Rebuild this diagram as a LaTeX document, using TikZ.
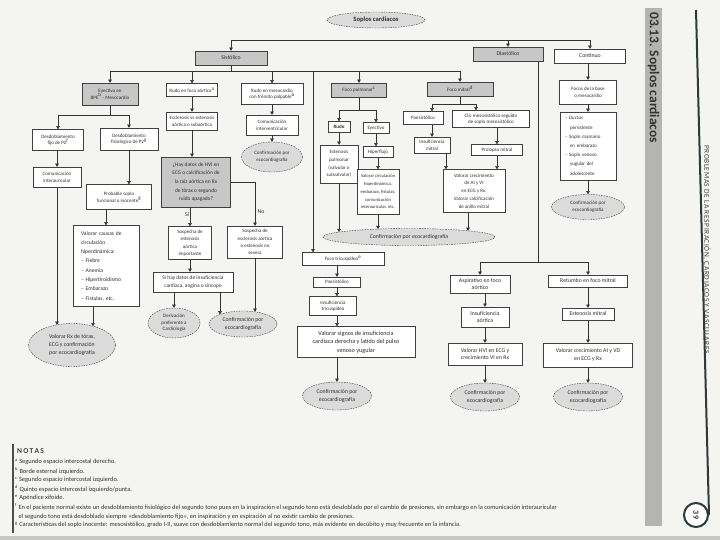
\documentclass[tikz,border=0pt]{standalone}
\usepackage{fontspec}
\setmainfont{Carlito}
\newfontfamily\spacedfont[LetterSpace=8]{Carlito}
\usetikzlibrary{arrows.meta,shapes.geometric,calc,shadows}
\definecolor{pagebg}{HTML}{F4F4F2}
\definecolor{band}{HTML}{B4B4B2}
\definecolor{ink}{HTML}{2E2E2E}
\definecolor{slate}{HTML}{2C3A3A}
\newcommand\fsA{\fontsize{5}{6.6}\selectfont}
\newcommand\fsB{\fontsize{5.8}{7.6}\selectfont}
\begin{document}
\begin{tikzpicture}[x=1pt,y=-1pt,
  ln/.style={black!80,line width=0.5pt},
  arr/.style={ln,-{Triangle[length=3.2pt,width=3.6pt]}},
  sz/.style 2 args={minimum width=#1pt,minimum height=#2pt},
  box/.style={draw=black!75,line width=0.4pt,fill=white,inner sep=1pt,align=center,font=\fsA,text=ink,
    drop shadow={shadow xshift=0.6pt,shadow yshift=-0.6pt,fill=black!35}},
  gbox/.style={box,fill=black!22},
  ell/.style={ellipse,draw=black!75,line width=0.4pt,dash pattern=on 1.6pt off 1pt,fill=black!14,inner sep=0pt,align=center,font=\fsA,text=ink},
  note/.style={anchor=west,inner sep=0pt,font=\fontsize{6.4}{6.4}\selectfont,text=black!80},
]
\useasboundingbox (0,0) rectangle (720,540);
\fill[pagebg] (0,0) rectangle (720,540);
\fill[black!22] (0,536) rectangle (720,540);

% right margin
\fill[band] (645,8) rectangle (662,526);
\node[rotate=-90,anchor=west,inner sep=0pt,font=\fontsize{13.5}{13.5}\selectfont\bfseries,text=black!80] (hdr) at (653.5,12) {03.13. Soplos cardiacos};
\node[circle,draw=slate,line width=2pt,fill=white,minimum size=24pt,inner sep=0pt,rotate=-90,font=\fontsize{8}{8}\selectfont\bfseries,text=slate] (pg) at (696,515) {39};
\coordinate (lt) at (696,10);
\draw[slate,line width=2pt] (lt) -- (pg.north);
\node[rotate=-90,anchor=west,inner sep=0pt,font=\spacedfont\fontsize{7.4}{7.4}\selectfont,text=black!75] (sect) at (707,145) {PROBLEMAS DE LA RESPIRACIÓN, CARDIACOS Y VASCULARES};

% title and top level
\node[ell,sz={98}{16},font=\fontsize{6.6}{8}\selectfont\bfseries] (title) at (376,20) {Soplos cardiacos};
\node[gbox,sz={72}{14},font=\fsB] (sis) at (231,58) {Sistólico};
\node[gbox,sz={70}{14},font=\fsB] (dia) at (508,54) {Diastólico};
\node[box,sz={71}{14},font=\fsB] (con) at (590,56) {Continuo};

% systolic level 2
\node[gbox,sz={56}{22}] (eyec) at (110,94) {Eyectivo en\\BPE\textsuperscript{b} - Mesocardio};
\node[box,sz={51}{13}] (rfa) at (192,90) {Rudo en foco aórtico\textsuperscript{a}};
\node[box,sz={62}{21}] (rmes) at (272,94) {Rudo en mesocardio\\con frémito palpable\textsuperscript{b}};
\node[gbox,sz={55}{14}] (fpul) at (359,90) {Foco pulmonar\textsuperscript{c}};
\node[gbox,sz={66}{14}] (fmit) at (460,89) {Foco mitral\textsuperscript{d}};

% left column
\node[box,sz={51}{21}] (dfijo) at (58,140) {Desdoblamiento\\fijo de P2\textsuperscript{f}};
\node[box,sz={58}{22}] (dfis) at (129,139) {Desdoblamiento\\fisiológico de P2\textsuperscript{g}};
\node[box,sz={48}{20}] (cia) at (57,177) {Comunicación\\interauricular};
\node[box,sz={65}{25}] (prob) at (119,197) {Probable soplo\\funcional o inocente\textsuperscript{g}};
\node[box,sz={66}{81},align=left,text width=50pt,font=\fontsize{5.6}{9.3}\selectfont] (vcaus) at (106,266) {Valorar causas de\\circulación\\hiperdinámica:\\– Fiebre\\– Anemia\\– Hipertiroidismo\\– Embarazo\\– Fístulas, etc.};
\node[ell,sz={87}{43},font=\fsB] (vrx) at (72,345) {Valorar Rx de tórax,\\ECG y confirmación\\por ecocardiografía};

% aortic
\node[box,sz={51}{18}] (esc) at (192,121) {Esclerosis vs estenosis\\aórtica o subaórtica};
\node[gbox,sz={69}{50},font=\fontsize{5.4}{8.6}\selectfont] (hay) at (196,182) {¿Hay datos de HVI en\\ECG o calcificación de\\la raíz aórtica en Rx\\de tórax o segundo\\ruido apagado?};
\node[box,sz={43}{33},font=\fontsize{5}{7.4}\selectfont] (sest) at (190,243) {Sospecha de\\estenosis\\aórtica\\importante};
\node[box,sz={55}{32},font=\fontsize{5}{7.2}\selectfont] (sescl) at (255,242) {Sospecha de\\esclerosis aórtica\\o estenosis no\\severa};
\node[box,sz={80}{20},font=\fontsize{5.4}{7.4}\selectfont] (sihay) at (193,282) {Si hay datos de insuficiencia\\cardiaca, angina o síncope};
\node[ell,sz={52}{30}] (deriv) at (174,323) {Derivación\\preferente a\\Cardiología};
\node[ell,sz={68}{26},font=\fsB] (conf2) at (243,324) {Confirmación por\\ecocardiografía};
\node[font=\fsB,text=ink,inner sep=0pt] (si) at (187,215) {Sí};
\node[font=\fsB,text=ink,inner sep=0pt] (no) at (261,212) {No};

% mesocardio
\node[box,sz={52}{20}] (civ) at (272,125) {Comunicación\\interventricular};
\node[ell,sz={61}{30}] (conf1) at (272,157) {Confirmación por\\ecocardiografía};

% pulmonary
\node[box,sz={22}{11},font=\fsA\bfseries] (rudo) at (339,127) {Rudo};
\node[box,sz={26}{11}] (eyec2) at (376,128) {Eyectivo};
\node[box,sz={38}{38},font=\fontsize{5}{7.6}\selectfont] (estp) at (339,164) {Estenosis\\pulmonar\\(valvular o\\subvalvular)};
\node[box,sz={30}{11}] (hiper) at (378,152) {Hiperflujo};
\node[box,sz={42}{45},font=\fontsize{4.6}{7.8}\selectfont] (vcirc) at (378,192) {Valorar circulación\\hiperdinámica,\\embarazo, fístulas,\\comunicación\\interauricular, etc.};

% mitral
\node[box,sz={40}{13}] (pans) at (423,118) {Pansistólico};
\node[box,sz={77}{17}] (clic) at (491,119) {Clic mesosistólico seguido\\de soplo mesosistólico};
\node[box,sz={36}{16}] (imit) at (432,145) {Insuficiencia\\mitral};
\node[box,sz={51}{11}] (prol) at (497,150) {Prolapso mitral};
\node[box,sz={62}{43},font=\fontsize{5}{7.8}\selectfont] (vcrec) at (474,191) {Valorar crecimiento\\de AI y VI\\en ECG y Rx.\\Valorar calcificación\\de anillo mitral};
\node[ell,sz={172}{17},font=\fsB] (confbig) at (409,237) {Confirmación por ecocardiografía};

% continuous
\node[box,sz={57}{24}] (foco) at (588,92) {Focos de la base\\o mesocardio};
\node[box,sz={56}{68},align=left,text width=46pt,font=\fontsize{5}{9.2}\selectfont] (clist) at (588,146) {– \textit{Ductus}\\\hspace*{5pt}persistente\\– Soplo mamario\\\hspace*{5pt}en embarazo\\– Soplo venoso\\\hspace*{5pt}yugular del\\\hspace*{5pt}adolescente};
\node[ell,sz={73}{25}] (conf3) at (588,207) {Confirmación por\\ecocardiografía};

% tricuspid
\node[box,sz={82}{13}] (ftri) at (343,259) {Foco tricuspídeo\textsuperscript{e}};
\node[box,sz={47}{10}] (pans2) at (337,282) {Pansistólico};
\node[box,sz={47}{19}] (itri) at (333,306) {Insuficiencia\\tricuspídea};
\node[box,sz={118}{31},font=\fontsize{6.2}{8.4}\selectfont] (vsig) at (356,342) {Valorar signos de insuficiencia\\cardiaca derecha y latido del pulso\\venoso yugular};
\node[ell,sz={69}{28},font=\fsB] (conf4) at (337,396) {Confirmación por\\ecocardiografía};

% diastolic
\node[box,sz={60}{18},font=\fsB] (asp) at (480,284) {Aspirativo en foco\\aórtico};
\node[box,sz={79}{12},font=\fsB] (ret) at (588,281) {Retumbo en foco mitral};
\node[box,sz={48}{20},font=\fsB] (iao) at (485,317) {Insuficiencia\\aórtica};
\node[box,sz={52}{12},font=\fsB] (est) at (588,314) {Estenosis mitral};
\node[box,sz={74}{22},font=\fsB] (vhvi) at (485,354) {Valorar HVI en ECG y\\crecimiento VI en Rx};
\node[box,sz={89}{24},font=\fsB] (vcad) at (588,355) {Valorar crecimiento AI y VD\\en ECG y Rx};
\node[ell,sz={69}{28},font=\fsB] (conf5) at (485,397) {Confirmación por\\ecocardiografía};
\node[ell,sz={69}{28},font=\fsB] (conf6) at (588,397) {Confirmación por\\ecocardiografía};

% ---------- connectors ----------
\coordinate (tl) at (231,40); \coordinate (tr) at (590,40);
\draw[ln] (tl) -- (tr);
\draw[arr] (tl) -- (sis.north);
\draw[arr] (dia.north |- tl) -- (dia.north);
\draw[arr] (tr) -- (con.north);

\coordinate (s1) at (110,71); \coordinate (s2) at (460,71); \coordinate (s3) at (313,71);
\draw[ln] (sis.south) -- (sis.south |- s1);
\draw[ln] (s1) -- (s2);
\draw[arr] (s1) -- (eyec.north);
\draw[arr] (rfa.north |- s1) -- (rfa.north);
\draw[arr] (rmes.north |- s1) -- (rmes.north);
\draw[arr] (fpul.north |- s1) -- (fpul.north);
\draw[arr] (s2) -- (fmit.north);
\draw[arr] (s3) -- (s3 |- ftri.north);

\coordinate (e1) at (58,115); \coordinate (e2) at (129,115);
\draw[ln] (eyec.south) -- (eyec.south |- e1);
\draw[ln] (e1) -- (e2);
\draw[arr] (e1) -- (dfijo.north);
\draw[arr] (e2) -- (dfis.north);
\draw[arr] (cia.north |- dfijo.south) -- (cia.north);
\draw[arr] (cia.south) -- ($(vrx.center)+(-15,-20.2)$);
\draw[arr] (dfis.south) -- (dfis.south |- prob.north);
\draw[arr] (prob.south -| vcaus.north) -- (vcaus.north);
\draw[arr] ([xshift=-13pt]vcaus.south) -- ($(vrx.center)+(21,-18.8)$);

\draw[arr] (rfa.south) -- (esc.north);
\draw[arr] (esc.south) -- (esc.south |- hay.north);
\draw[arr] (sest.north |- hay.south) -- (sest.north);
\draw[ln] (hay.east) -- (sescl.north |- hay.east);
\draw[arr] (sescl.north |- hay.east) -- (sescl.north);
\draw[arr] (sest.south) -- (sest.south |- sihay.north);
\draw[arr] (deriv.north |- sihay.south) -- (deriv.north);
\draw[arr] ([xshift=27pt]sihay.south) -- ($(conf2.center)+(-23,-9.6)$);
\draw[arr] (sescl.south) -- ($(conf2.center)+(12,-12.2)$);

\draw[arr] (rmes.south) -- (civ.north);
\draw[arr] (civ.south) -- (conf1.north);

\coordinate (p1) at (339,110); \coordinate (p2) at (376,110);
\draw[ln] (fpul.south) -- (fpul.south |- p1);
\draw[ln] (p1) -- (p2);
\draw[arr] (p1) -- (rudo.north);
\draw[arr] (p2) -- (eyec2.north);
\draw[arr] (eyec2.south) -- (eyec2.south |- hiper.north);
\draw[arr] (hiper.south) -- (vcirc.north);
\draw[arr] (rudo.south) -- (estp.north);
\draw[arr] (estp.south) -- ($(confbig.center)+(-70,-4.9)$);
\draw[arr] (vcirc.south) -- ($(confbig.center)+(-31,-7.9)$);

\coordinate (m1) at (432,104); \coordinate (m2) at (476,104);
\draw[ln] (fmit.south) -- (fmit.south |- m1);
\draw[ln] (m1) -- (m2);
\draw[arr] (m1) -- (m1 |- pans.north);
\draw[arr] (m2) -- (m2 |- clic.north);
\draw[arr] (imit.north |- pans.south) -- (imit.north);
\draw[arr] (prol.north |- clic.south) -- (prol.north);
\draw[arr] ([xshift=14pt]imit.south) -- ([xshift=14pt]imit.south |- vcrec.north);
\draw[arr] (prol.south) -- (prol.south |- vcrec.north);
\draw[arr] ([xshift=-6pt]vcrec.south) -- ($(confbig.center)+(59,-6.2)$);

\draw[arr] (foco.north |- con.south) -- (foco.north);
\draw[arr] (foco.south) -- (clist.north);
\draw[arr] (clist.south) -- (conf3.north);

\coordinate (d1) at (538,262); \coordinate (d2) at (480,262); \coordinate (d3) at (588,262);
\draw[ln] ([xshift=30pt]dia.south) -- (d1);
\draw[ln] (d2) -- (d3);
\draw[arr] (d2) -- (asp.north);
\draw[arr] (d3) -- (ret.north);
\draw[arr] (iao.north |- asp.south) -- (iao.north);
\draw[arr] (iao.south) -- (vhvi.north);
\draw[arr] (vhvi.south) -- (conf5.north);
\draw[arr] (ret.south) -- (est.north);
\draw[arr] (est.south) -- (vcad.north);
\draw[arr] (vcad.south) -- (conf6.north);

\draw[arr] (pans2.north |- ftri.south) -- (pans2.north);
\draw[arr] (pans2.south) -- (pans2.south |- itri.north);
\draw[arr] (pans2.south |- itri.south) -- (pans2.south |- vsig.north);
\draw[arr] (pans2.south |- vsig.south) -- (conf4.north);

% ---------- notes ----------
\draw[black!70,line width=1.2pt] (13,444) -- (13,533);
\node[anchor=west,inner sep=0pt,font=\fontsize{7.5}{7.5}\selectfont\bfseries,text=black!75] (notas) at (17,451) {N\,O\,T\,A\,S};
\node[note] (n1) at (15,462) {\textsuperscript{a} Segundo espacio intercostal derecho.};
\node[note] (n2) at (15,471) {\textsuperscript{b} Borde esternal izquierdo.};
\node[note] (n3) at (15,480) {\textsuperscript{c} Segundo espacio intercostal izquierdo.};
\node[note] (n4) at (15,489) {\textsuperscript{d} Quinto espacio intercostal izquierdo/punta.};
\node[note] (n5) at (15,498) {\textsuperscript{e} Apéndice xifoide.};
\node[note] (n6) at (15,507) {\textsuperscript{f} En el paciente normal existe un desdoblamiento fisiológico del segundo tono pues en la inspiración el segundo tono está desdoblado por el cambio de presiones, sin embargo en la comunicación interauricular};
\node[note] (n7) at (15,516) {\phantom{\textsuperscript{f}} el segundo tono está desdoblado siempre «desdoblamiento fijo», en inspiración y en espiración al no existir cambio de presiones.};
\node[note] (n8) at (15,525) {\textsuperscript{g} Características del soplo inocente: mesosistólico, grado I-II, suave con desdoblamiento normal del segundo tono, más evidente en decúbito y muy frecuente en la infancia.};
\end{tikzpicture}
\end{document}
